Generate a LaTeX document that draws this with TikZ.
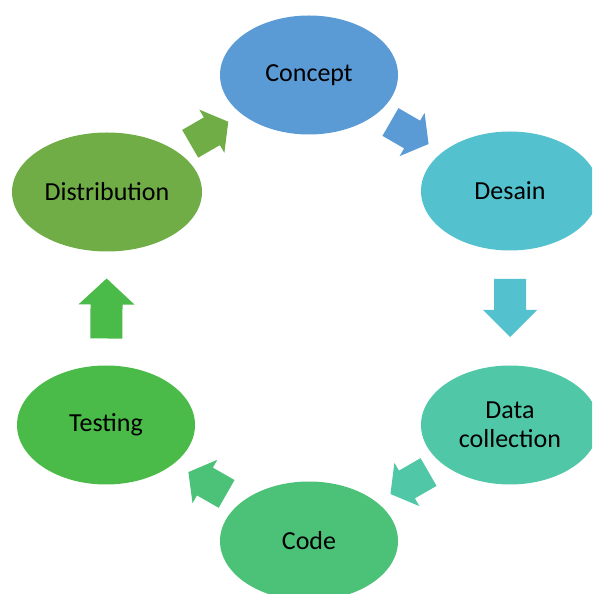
\documentclass[tikz,border=0pt]{standalone}
\usepackage{fontspec}
\setmainfont{Carlito}
\usetikzlibrary{shapes.geometric}

\definecolor{conceptblue}{RGB}{91,155,213}
\definecolor{desaincyan}{RGB}{84,194,206}
\definecolor{datateal}{RGB}{80,200,168}
\definecolor{codegreen}{RGB}{76,194,120}
\definecolor{testgreen}{RGB}{74,186,72}
\definecolor{distgreen}{RGB}{112,173,71}

\begin{document}
\begin{tikzpicture}[x=1pt,y=1pt]
  \tikzset{
    phase/.style={
      ellipse,
      fill=#1,
      minimum width=178pt,
      minimum height=119pt,
      inner sep=0pt,
      align=center,
      font=\fontsize{26}{29}\selectfont,
    },
    % block arrow: length / half head width / head length
    pics/cycle arrow/.style args={#1/#2/#3}{
      code={
        \path[pic actions]
          (-#1/2,-16) -- (#1/2-#3,-16) -- (#1/2-#3,-#2)
          -- (#1/2,0)
          -- (#1/2-#3,#2) -- (#1/2-#3,16) -- (-#1/2,16) -- cycle;
      }
    },
    step arrow/.style={sloped, allow upside down, midway, fill=#1},
  }

  \useasboundingbox (0,0) rectangle (592,594);
  \clip (0,0) rectangle (592,594);

  % the six stages
  \node[phase=conceptblue] (concept) at (309,519) {Concept};
  \node[phase=desaincyan] (desain) at (510,403) {Desain};
  \node[phase=datateal] (data) at (510,169) {Data\\collection};
  \node[phase=codegreen] (code) at (309,53) {Code};
  \node[phase=testgreen] (testing) at (106,169) {Testing};
  \node[phase=distgreen, minimum width=190pt] (dist) at (107,402) {Distribution};

  % arrows between stages
  \path (concept) -- pic[step arrow=conceptblue]{cycle arrow=44/25/19} (desain);
  \path (desain) -- pic[step arrow=desaincyan]{cycle arrow=58/27/27} (data);
  \path (data) -- pic[step arrow=datateal]{cycle arrow=44/25/19} (code);
  \path (code) -- pic[step arrow=codegreen]{cycle arrow=44/25/19} (testing);
  \path (testing) -- pic[step arrow=testgreen]{cycle arrow=60/28/26} (dist);
  \path (dist) -- pic[step arrow=distgreen]{cycle arrow=44/25/19} (concept);
\end{tikzpicture}
\end{document}
